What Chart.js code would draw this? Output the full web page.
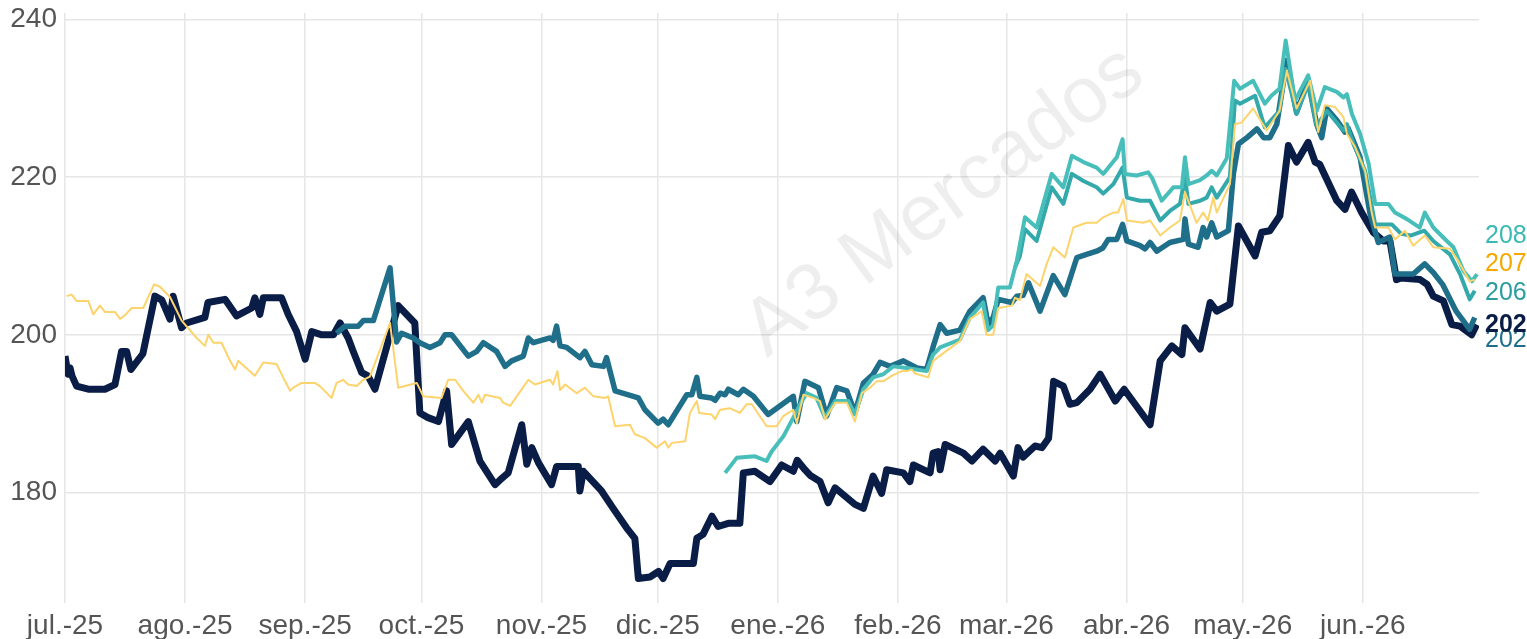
<!DOCTYPE html>
<html>
<head>
<meta charset="utf-8">
<script src="https://cdn.jsdelivr.net/npm/chart.js@4.4.1/dist/chart.umd.min.js"></script>
<style>
  html, body { margin: 0; background: #fff; }
  #wrap { width: 1527px; height: 639px; }
</style>
</head>
<body>
<div id="wrap"><canvas id="chart"></canvas></div>
<script>
// x = days since 1 Jul 2025, y = price
const monthStarts = [0, 31, 62, 92, 123, 153, 184, 215, 243, 274, 304, 335];
const monthLabels = ['jul.-25', 'ago.-25', 'sep.-25', 'oct.-25', 'nov.-25', 'dic.-25',
                     'ene.-26', 'feb.-26', 'mar.-26', 'abr.-26', 'may.-26', 'jun.-26'];
const yTicks = [180, 200, 220, 240];
const endLabels = ['208', '207', '206', '202', '202'];

const navySeries = [[0,197.3],[0.8,195.0],[1.3,195.8],[1.8,194.8],[3,193.5],[6,193.1],[10.3,193.1],[12.9,193.7],[14.6,197.9],[15.9,197.9],
  [17,195.6],[20.1,197.6],[23.2,204.9],[25,204.4],[27.1,202.0],[27.9,204.9],[30.1,200.9],[31.4,201.5],[36.1,202.2],[36.9,204.1],
  [41.3,204.5],[44.3,202.4],[48.2,203.4],[49,204.7],[50.3,202.6],[51.2,204.7],[55.9,204.7],[57.6,202.6],[59.8,200.4],[62,196.9],
  [63.7,200.4],[66.3,200.0],[69.3,200.0],[71,201.5],[73.1,199.6],[74.4,197.9],[76.6,195.2],[78.2,194.8],[80,193.1],
  [86,203.7],[90.3,201.5],[91.6,190.1],[93.7,189.5],[96.4,189.0],[98.5,192.9],[99.8,186.1],[104.1,189.0],[107.1,184.0],[111,181.0],
  [112.3,181.6],[114.4,182.5],[117.9,188.6],[119.2,183.6],[120.5,185.7],[122.2,183.8],[125.6,181.0],[126.9,183.3],[132.5,183.3],[132.9,180.2],
  [133.8,182.7],[138.5,180.2],[141.5,178.0],[145,175.5],[147.1,174.2],[148,169.1],[151,169.3],[153.2,170.0],[154.4,169.1],[156.2,171.0],
  [162.2,171.0],[163.1,174.2],[164.7,174.7],[167,177.0],[168.6,175.7],[171.2,176.1],[174.2,176.1],[175.1,182.5],[178.1,182.7],[182,181.4],
  [185,183.5],[188,182.7],[189,184.1],[191,182.9],[192.3,182.2],[194.9,181.4],[197,178.7],[198.8,180.6],[203.9,178.5],[206.1,178.0],
  [208.6,182.1],[210.8,179.9],[212.1,182.9],[216.4,182.5],[218.1,181.4],[219,183.5],[223.3,182.5],[224.1,185.0],[225.4,185.2],[225.9,182.9],
  [227.2,186.1],[231.9,185.0],[234.1,184.0],[237,185.5],[240.1,184.0],[241.4,185.0],[244.8,182.1],[246,185.7],[247.3,184.5],[250.4,185.9],
  [252.2,185.7],[253.9,186.9],[255.2,194.1],[257.7,193.5],[259.4,191.2],[261.2,191.4],[264.6,193.1],[267.2,195.0],[271.1,191.6],[273.4,193.1],
  [280.1,188.6],[282.7,196.7],[285.7,198.6],[288.3,197.5],[289.1,200.9],[293,198.2],[295.6,204.1],[297.3,203.0],[300.7,203.9],[302.9,213.8],
  [307.2,210.0],[308.9,213.0],[311,213.2],[313.6,215.1],[315.8,224.0],[317.9,221.9],[320.9,224.4],[322.7,221.9],[323.9,221.6],[328.3,217.0],
  [330.4,215.9],[332.1,218.1],[334.7,215.5],[337.7,213.0],[340.3,211.9],[342,211.9],[343.7,207.0],[344.9,207.2],[349.8,207.0],[351.6,206.4],
  [353.2,204.9],[355.8,204.3],[358,201.3],[360.1,201.1],[363.1,200.0],[364.4,201.3]];

const yellowSeries = [[0.4,204.9],[1.7,205.1],[3.0,204.3],[6.0,204.3],[7.3,202.6],[9.0,203.7],[10.3,202.9],[12.9,202.9],[14.2,202.0],[15.5,202.5],
  [17.2,203.4],[20.2,203.4],[23.0,206.4],[24.5,206.1],[27.1,204.8],[30.1,201.8],[34.0,199.6],[36.1,198.6],[37.0,200.0],[38.3,199.0],
  [40.4,199.0],[42.6,196.7],[43.9,195.6],[44.7,196.7],[49.0,194.8],[51.2,196.5],[54.6,196.3],[56.3,194.6],[58.1,192.9],[58.9,193.3],
  [61.1,193.9],[64.5,193.9],[65.8,193.5],[68.8,192.0],[70.1,193.9],[71.8,194.3],[73.1,193.7],[75.3,193.5],[77.0,194.3],[78.7,194.7],
  [83.9,201.5],[84.7,198.4],[86.0,193.3],[90.8,193.9],[92.5,192.2],[97.2,192.0],[98.9,194.3],[100.7,194.3],[102.8,192.9],[105.4,191.4],
  [106.7,192.4],[107.6,191.4],[108.4,192.4],[112.3,192.0],[113.1,191.4],[114.9,191.0],[119.6,194.3],[121.3,193.7],[125.2,194.3],[126.0,193.7],
  [127.1,195.4],[127.8,193.0],[129.1,193.7],[132.1,192.6],[134.2,193.3],[136.4,192.2],[139.4,192.0],[140.2,192.2],[142.0,188.4],[145.8,188.6],
  [147.1,187.4],[149.7,186.9],[152.7,185.7],[154.9,186.5],[155.7,185.7],[156.7,186.3],[160.1,186.5],[161.3,190.1],[163.1,191.6],[163.7,190.1],
  [166.9,189.9],[167.8,189.3],[169.1,190.5],[171.6,190.7],[174.2,190.1],[176.0,191.2],[177.3,191.2],[181.1,188.4],[183.7,188.4],[185.4,189.7],
  [188.0,190.5],[188.9,188.8],[190.6,192.4],[193.2,192.0],[194.9,191.6],[196.2,189.3],[198.8,191.4],[201.8,191.4],[203.9,189.0],[205.7,192.6],
  [207.8,193.3],[209.5,194.1],[211.2,194.1],[213.4,194.8],[216.0,195.4],[217.3,195.4],[218.6,195.6],[219.4,195.1],[222.8,194.6],[224.1,196.7],
  [227.6,198.0],[231.0,199.2],[233.6,202.0],[236.6,203.0],[237.9,200.0],[239.6,200.0],[240.9,203.4],[244.4,203.7],[245.2,204.7],[246.5,204.4],
  [248.2,207.7],[251.7,206.2],[253.4,209.0],[255.1,211.1],[258.1,209.8],[260.3,213.6],[263.7,214.2],[266.3,214.2],[268.0,214.9],[270.6,215.5],
  [271.8,215.5],[273.2,217.2],[274.1,214.5],[278.3,214.2],[280.1,214.5],[282.7,212.6],[285.2,213.6],[287.8,214.5],[289.1,218.1],[292.1,214.2],
  [293.8,215.5],[295.0,214.5],[296.4,217.4],[297.3,215.5],[300.7,219.1],[302.0,226.7],[303.7,226.9],[306.7,228.7],[310.2,225.9],[313.5,228.4],
  [315.4,233.5],[317.9,228.7],[321.4,232.2],[323.5,225.7],[325.2,229.1],[327.8,228.9],[330.0,227.6],[330.9,225.5],[333.0,223.8],[335.6,220.8],
  [337.3,215.5],[338.2,213.6],[341.6,213.6],[343.3,212.1],[345.9,213.2],[348.0,211.3],[351.0,212.6],[353.2,211.1],[357.5,210.9],[359.6,209.4],
  [362.6,206.8],[363.9,207.0]];

const darkTealSeries = [[70.1,200.2],[72.3,201.1],[75.7,201.1],[77.0,201.8],[79.6,201.8],[83.9,208.5],[85.6,199.1],[86.9,200.2],[89.9,199.6],[91.6,199.0],
  [94.2,198.4],[96.8,199.0],[98.1,200.0],[99.8,200.0],[104.1,197.3],[106.3,197.9],[108.0,199.0],[111.4,197.9],[113.6,196.0],[115.3,196.7],
  [118.3,197.3],[119.6,199.6],[120.9,199.0],[125.2,199.6],[126.0,199.3],[126.9,201.1],[127.8,198.6],[129.5,198.4],[132.9,197.1],[134.2,197.9],
  [136.0,196.2],[139.0,196.0],[139.8,197.1],[142.0,192.9],[148.0,192.0],[149.7,190.5],[153.1,188.8],[154.4,189.3],[155.7,188.6],[160.5,192.4],
  [161.8,192.4],[163.1,194.6],[163.9,192.2],[166.9,192.0],[167.8,191.7],[169.1,192.6],[170.4,192.4],[171.2,193.1],[173.8,192.4],[175.1,193.1],
  [177.7,192.2],[181.5,189.9],[188.0,192.2],[188.9,189.0],[191.0,194.1],[194.5,193.3],[196.6,189.7],[199.2,193.3],[201.8,192.9],[203.9,190.1],
  [206.1,193.9],[208.6,195.0],[210.4,196.5],[213.0,196.0],[216.4,196.7],[219.9,195.8],[222.4,195.6],[224.1,198.5],[225.9,201.3],[227.6,200.2],
  [231.0,200.6],[233.6,203.0],[237.0,204.7],[238.3,201.3],[239.6,202.2],[240.9,204.5],[244.4,204.1],[245.7,204.9],[247.3,205.0],[248.7,206.6],
  [251.7,203.0],[255.1,207.5],[258.1,205.1],[261.2,209.8],[263.7,210.2],[266.3,210.6],[267.9,211.0],[269.3,212.1],[271.5,212.1],[273.0,214.0],
  [274.1,211.9],[277.5,211.3],[278.8,210.9],[280.1,211.7],[281.8,210.6],[285.2,211.7],[288.7,212.1],[289.1,214.7],[290.0,211.5],[292.5,211.1],
  [293.8,213.6],[294.7,212.4],[296.0,214.2],[297.3,212.4],[300.3,213.2],[301.6,220.4],[302.9,224.2],[305.1,225.0],[307.7,226.1],[309.4,225.0],
  [311.0,225.0],[312.8,226.7],[315.4,234.8],[317.9,228.2],[320.9,232.2],[323.1,226.7],[324.4,225.0],[325.7,228.7],[328.3,227.2],[330.4,225.7],
  [331.2,226.2],[334.3,222.5],[336.9,215.3],[339.0,211.7],[342.0,212.4],[343.3,207.7],[348.0,207.7],[351.0,209.0],[353.2,207.9],[355.6,206.4],
  [359.1,203.0],[362.6,200.7],[363.9,202.2]];

const lightTealSeries = [[170.4,182.5],[173.4,184.4],[178.1,184.6],[181.1,184.0],[182.4,185.2],[185.4,187.1],[188.0,189.5],[190.2,191.6],[191.5,192.6],[194.0,192.0],
  [196.2,189.5],[198.8,191.6],[202.2,191.6],[203.9,189.9],[206.1,193.1],[208.6,194.6],[211.2,195.0],[213.8,196.0],[217.3,195.8],[222.4,195.4],
  [224.1,197.5],[225.9,198.4],[231.0,199.4],[233.6,202.2],[237.0,204.1],[238.3,200.6],[239.6,201.2],[240.9,206.0],[243.9,206.0],[245.7,209.4],
  [247.8,214.9],[250.8,213.6],[254.7,220.4],[257.7,218.7],[259.9,222.7],[262.9,221.9],[266.3,221.2],[268.0,220.4],[271.5,222.5],[273.0,224.8],
  [273.6,220.4],[276.6,220.2],[279.6,220.6],[280.6,219.9],[283.1,217.0],[286.1,218.7],[288.3,218.7],[289.1,222.5],[290.0,219.1],[293.0,219.6],
  [294.7,220.2],[296.0,220.8],[297.3,220.2],[299.9,222.4],[301.8,232.2],[303.3,231.2],[306.7,232.2],[309.7,229.3],[311.4,230.3],[313.5,231.2],
  [315.1,237.3],[317.5,229.7],[320.9,232.9],[323.1,228.4],[325.2,231.4],[328.3,230.8],[330.0,230.1],[330.9,230.5],[332.2,228.0],[334.3,225.5],
  [336.5,221.7],[338.2,216.6],[341.6,216.6],[343.3,215.5],[346.3,214.7],[349.7,213.6],[351.0,215.5],[353.2,213.6],[356.7,211.9],[358.4,211.1],
  [361.0,208.1],[363.2,206.8],[364.5,207.7]];

const midTealSeries = [[245.2,208.5],[246.5,210.0],[247.8,213.4],[250.8,211.9],[254.7,218.7],[257.7,216.6],[259.9,220.4],[262.9,219.5],[266.3,218.7],[268.0,217.9],
  [270.6,219.1],[273.0,221.2],[274.1,217.4],[277.5,217.0],[280.1,217.0],[282.7,214.5],[285.2,215.7],[287.8,216.6],[289.1,220.0],[290.0,216.6],
  [293.0,217.0],[294.7,217.4],[296.0,218.7],[297.3,217.4],[300.7,220.0],[302.0,229.7],[303.3,229.3],[307.2,230.3],[309.7,226.3],[313.5,228.4],
  [315.1,233.7],[317.9,228.0],[320.9,231.8],[323.1,226.5],[325.7,228.4],[330.0,225.9],[330.9,226.7],[332.6,224.2],[335.6,220.8],[338.2,214.0],
  [342.5,214.0],[344.9,212.8],[347.5,212.6],[350.9,213.2],[353.2,211.9],[357.5,210.2],[360.1,207.7],[362.6,204.5],[363.9,205.6]];

// drawing style; the first dataset is painted on top
const styles = [
  { data: yellowSeries,    line: '#fdd36b', width: 2,   text: '#f5a800', bold: false, labelAt: 209.0, label: endLabels[1] },
  { data: lightTealSeries, line: '#47beb9', width: 4,   text: '#3bb9b4', bold: false, labelAt: 212.5, label: endLabels[0] },
  { data: midTealSeries,   line: '#34a9ab', width: 4,   text: '#2a9e9f', bold: false, labelAt: 205.3, label: endLabels[2] },
  { data: darkTealSeries,  line: '#1f6f8b', width: 5.5, text: '#1f6f8b', bold: false, labelAt: 199.3, label: endLabels[4] },
  { data: navySeries,      line: '#0a1d46', width: 7,   text: '#0a1d46', bold: true,  labelAt: 201.2, label: endLabels[3] }
];

const FONT = "'Liberation Sans', Arial, sans-serif";

const watermark = {
  id: 'watermark',
  beforeDatasetsDraw(chart) {
    const a = chart.chartArea, ctx = chart.ctx;
    ctx.save();
    ctx.translate(a.left + (a.right - a.left) * 0.622, a.top + (a.bottom - a.top) * 0.32);
    ctx.rotate(-36 * Math.PI / 180);
    ctx.font = '80px ' + FONT;
    ctx.fillStyle = 'rgba(0,0,0,0.065)';
    ctx.textAlign = 'center';
    ctx.textBaseline = 'middle';
    ctx.fillText('A3 Mercados', 0, 0);
    ctx.restore();
  }
};

const endText = {
  id: 'endText',
  afterDatasetsDraw(chart) {
    const ctx = chart.ctx, y = chart.scales.y;
    ctx.save();
    ctx.textAlign = 'left';
    ctx.textBaseline = 'middle';
    styles.forEach(s => {
      ctx.font = (s.bold ? 'bold ' : '') + '25px ' + FONT;
      ctx.fillStyle = s.text;
      ctx.fillText(s.label, chart.chartArea.right + 6, y.getPixelForValue(s.labelAt));
    });
    ctx.restore();
  }
};

const gridStyle = { color: '#e6e6e6', lineWidth: 1.5, drawTicks: false };

function noEdgePadding(s) {
  s.paddingTop = 0; s.paddingBottom = 0; s.paddingLeft = 0; s.paddingRight = 0;
}

new Chart(document.getElementById('chart'), {
  type: 'line',
  data: {
    datasets: styles.map(s => ({
      data: s.data.map(([x, y]) => ({ x: x, y: y })),
      borderColor: s.line,
      borderWidth: s.width,
      pointRadius: 0,
      tension: 0,
      borderJoinStyle: 'round',
      fill: false
    }))
  },
  options: {
    responsive: true,
    maintainAspectRatio: false,
    animation: false,
    layout: { padding: { left: 0, right: 48, top: 13, bottom: 0 } },
    plugins: { legend: { display: false }, tooltip: { enabled: false } },
    scales: {
      x: {
        type: 'linear',
        min: 0,
        max: 365,
        afterBuildTicks: s => { s.ticks = monthStarts.map(v => ({ value: v })); },
        afterFit: s => { s.height = 36; noEdgePadding(s); },
        ticks: {
          autoSkip: false,
          maxRotation: 0,
          padding: 6,
          color: '#555',
          font: { family: FONT, size: 28 },
          callback: v => monthLabels[monthStarts.indexOf(v)] || ''
        },
        grid: gridStyle,
        border: { display: false }
      },
      y: {
        min: 166,
        max: 240.8,
        afterBuildTicks: s => { s.ticks = yTicks.map(v => ({ value: v })); },
        afterFit: s => { s.width = 65; noEdgePadding(s); },
        ticks: {
          padding: 8,
          color: '#555',
          font: { family: FONT, size: 28 },
          callback: v => String(v)
        },
        grid: gridStyle,
        border: { display: false }
      }
    }
  },
  plugins: [watermark, endText]
});
</script>
</body>
</html>
